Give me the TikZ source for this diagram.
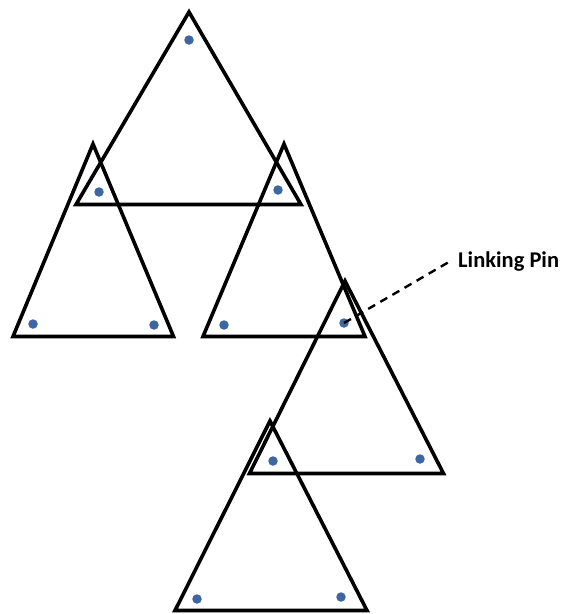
\documentclass[tikz,border=0pt]{standalone}
\usepackage{fontspec}
\setmainfont{Carlito}
\definecolor{pinblue}{RGB}{62,102,160}
\begin{document}
\begin{tikzpicture}[x=1pt,y=-1pt,
  tri/.style={draw=black,line width=3.6pt,line join=miter},
  pin/.style={circle,fill=pinblue,inner sep=0pt,minimum size=9.5pt},
  lbl/.style={font=\bfseries\fontsize{22.5}{26}\selectfont,anchor=base west,inner sep=0pt}]
\useasboundingbox (0,0) rectangle (566,614);
% triangles
\draw[tri] (189,12) -- (301,204.5) -- (76,204.5) -- cycle;
\draw[tri] (93,144) -- (173.5,336.5) -- (13,336.5) -- cycle;
\draw[tri] (284,144) -- (365,336.5) -- (203,336.5) -- cycle;
\draw[tri] (345,281) -- (443.5,473.5) -- (249.5,473.5) -- cycle;
\draw[tri] (270,421) -- (367,610.5) -- (175,610.5) -- cycle;
% pins
\node[pin] (p1) at (189,40) {};
\node[pin] (p2) at (99,192) {};
\node[pin] (p3) at (278,190) {};
\node[pin] (p4) at (33,324) {};
\node[pin] (p5) at (154,325) {};
\node[pin] (p6) at (224,325) {};
\node[pin] (p7) at (344,323) {};
\node[pin] (p8) at (273,461) {};
\node[pin] (p9) at (420,459) {};
\node[pin] (p10) at (197,599) {};
\node[pin] (p11) at (341,597) {};
% label
\node[lbl] (lp) at (458,267.5) {Linking Pin};
\coordinate (lpend) at (448,262.5);
\draw[line width=2.4pt,dash pattern=on 8pt off 6pt] (p7.center) -- (lpend);
\end{tikzpicture}
\end{document}
